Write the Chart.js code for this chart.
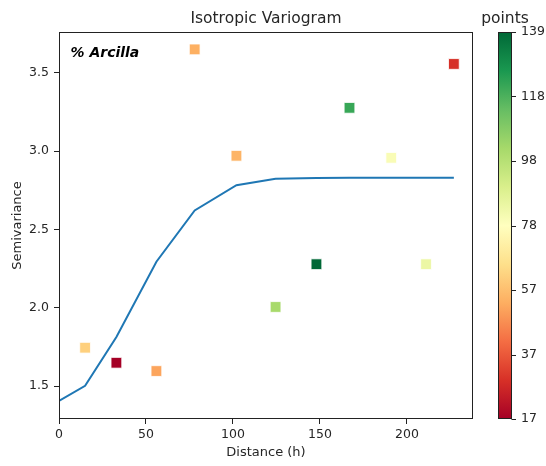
<!DOCTYPE html>
<html>
<head>
<meta charset="utf-8">
<script src="https://cdn.jsdelivr.net/npm/chart.js@4"></script>
<style>
  html, body { margin: 0; padding: 0; background: #fff; }
</style>
</head>
<body>
<canvas id="myChart" width="546" height="466"></canvas>
<script>
// experimental semivariance per lag
const lagDistance = [15, 33, 56, 78, 102, 124.5, 148, 167, 191, 211, 227];
const semivariance = [1.745, 1.649, 1.596, 3.649, 2.970, 2.005, 2.278, 3.276, 2.957, 2.278, 3.556];
const pointCount = [62, 17, 52, 54, 55, 102, 139, 122, 80, 84, 29];
// fitted model
const modelDistance = [0, 15, 33, 56, 78, 102, 124.5, 148, 167, 191, 211, 227];
const modelValue = [1.406, 1.502, 1.813, 2.294, 2.621, 2.782, 2.823, 2.828, 2.829, 2.83, 2.83, 2.83];
// ticks
const xTicks = [0, 50, 100, 150, 200];
const yTicks = [1.5, 2.0, 2.5, 3.0, 3.5];
const cbTicks = [17, 37.33, 57.67, 78, 98.33, 118.67, 139];
const cbTickLabels = ['17', '37', '57', '78', '98', '118', '139'];

const FONT = 'DejaVu Sans';
const TXT = '#262626';
const cbMin = 17, cbMax = 139;
const rdylgn = ['#a50026','#d73027','#f46d43','#fdae61','#fee08b','#ffffbf','#d9ef8b','#a6d96a','#66bd63','#1a9850','#006837'];

function hex(c) {
    return [1, 3, 5].map(i => parseInt(c.substr(i, 2), 16));
}
function cmap(v) {
    let t = (v - cbMin) / (cbMax - cbMin);
    t = Math.max(0, Math.min(1, t)) * (rdylgn.length - 1);
    const i = Math.min(Math.floor(t), rdylgn.length - 2);
    const f = t - i;
    const a = hex(rdylgn[i]), b = hex(rdylgn[i + 1]);
    const c = a.map((x, k) => Math.round(x + (b[k] - x) * f));
    return 'rgb(' + c.join(',') + ')';
}

const extras = {
    id: 'extras',
    afterDraw(chart) {
        const ctx = chart.ctx;
        const a = chart.chartArea;
        const cb = chart.scales.cb;
        ctx.save();
        // axes box
        ctx.strokeStyle = '#222';
        ctx.lineWidth = 1;
        ctx.strokeRect(Math.round(a.left) + 0.5, Math.round(a.top) + 0.5,
            Math.round(a.right - a.left) - 1, Math.round(a.bottom - a.top) - 1);

        // title
        ctx.fillStyle = TXT;
        ctx.font = '15.5px "' + FONT + '"';
        ctx.textAlign = 'center';
        ctx.textBaseline = 'middle';
        ctx.fillText('Isotropic Variogram', (a.left + a.right) / 2, 19);
        ctx.fillText('points', 505, 19);

        // label inside axes
        ctx.fillStyle = '#000';
        ctx.font = 'italic bold 14px "' + FONT + '"';
        ctx.textAlign = 'left';
        ctx.fillText('% Arcilla', a.left + 11.5, a.top + 21);

        // colorbar
        const x0 = 498, x1 = 512;
        const g = ctx.createLinearGradient(0, cb.bottom, 0, cb.top);
        rdylgn.forEach((c, i) => g.addColorStop(i / (rdylgn.length - 1), c));
        ctx.fillStyle = g;
        ctx.fillRect(x0, cb.top, x1 - x0, cb.bottom - cb.top);
        ctx.strokeStyle = '#222';
        ctx.strokeRect(x0 + 0.5, Math.round(cb.top) + 0.5, x1 - x0 - 1, Math.round(cb.bottom - cb.top) - 1);
        ctx.beginPath();
        cbTicks.forEach(v => {
            const y = Math.round(cb.getPixelForValue(v)) + 0.5;
            ctx.moveTo(x1 - 0.5, y);
            ctx.lineTo(x1 + 4, y);
        });
        ctx.stroke();
        ctx.restore();
    }
};

const ctx = document.getElementById('myChart');
var graphData = {
    type: 'scatter',
    data: {
        datasets: [{
            label: 'points',
            data: lagDistance.map((x, i) => ({x: x, y: semivariance[i]})),
            backgroundColor: pointCount.map(cmap),
            borderColor: 'rgba(255,255,255,0.8)',
            borderWidth: 1,
            pointStyle: 'rect',
            pointRadius: 7.6,
            pointHoverRadius: 7.6
        }, {
            label: 'model',
            type: 'line',
            data: modelDistance.map((x, i) => ({x: x, y: modelValue[i]})),
            borderColor: '#1f77b4',
            borderWidth: 2,
            pointRadius: 0,
            tension: 0,
            fill: false
        }]
    },
    options: {
        responsive: false,
        animation: false,
        devicePixelRatio: 1,
        layout: { padding: { top: 32, left: 0, right: 0, bottom: 0 } },
        plugins: {
            legend: { display: false },
            tooltip: { enabled: false },
            title: { display: false }
        },
        scales: {
            x: {
                type: 'linear',
                position: 'bottom',
                min: 0,
                max: 238,
                afterBuildTicks: s => { s.ticks = xTicks.map(v => ({value: v})); },
                afterFit: s => { s.height = 47; },
                grid: { drawOnChartArea: false, color: '#222', tickLength: 5 },
                border: { display: false },
                ticks: { color: TXT, padding: 3, font: { family: FONT, size: 12.5 } },
                title: {
                    display: true,
                    text: 'Distance (h)',
                    color: TXT,
                    font: { family: FONT, size: 13, lineHeight: 1.2 },
                    padding: { top: 0, bottom: 5.5 }
                }
            },
            y: {
                type: 'linear',
                position: 'left',
                min: 1.29,
                max: 3.76,
                afterBuildTicks: s => { s.ticks = yTicks.map(v => ({value: v})); },
                afterFit: s => { s.width = 59; },
                grid: { drawOnChartArea: false, color: '#222', tickLength: 5 },
                border: { display: false },
                ticks: {
                    color: TXT, padding: 5, font: { family: FONT, size: 12.5 },
                    callback: v => Number(v).toFixed(1)
                },
                title: {
                    display: true,
                    text: 'Semivariance',
                    color: TXT,
                    font: { family: FONT, size: 13, lineHeight: 1.2 },
                    padding: { top: 9.5, bottom: 0 }
                }
            },
            cb: {
                type: 'linear',
                axis: 'y',
                position: 'right',
                min: cbMin,
                max: cbMax,
                afterBuildTicks: s => { s.ticks = cbTicks.map(v => ({value: v})); },
                afterFit: s => {
                    s.width = 73;
                    s.paddingTop = 0;
                    s.paddingBottom = 0;
                },
                grid: { display: false, drawTicks: false },
                border: { display: false },
                ticks: {
                    color: TXT, padding: 48, font: { family: FONT, size: 12.5 },
                    callback: (v, i) => cbTickLabels[i]
                }
            }
        }
    },
    plugins: [extras]
};
var myChart = new Chart(ctx, graphData);
</script>
</body>
</html>
